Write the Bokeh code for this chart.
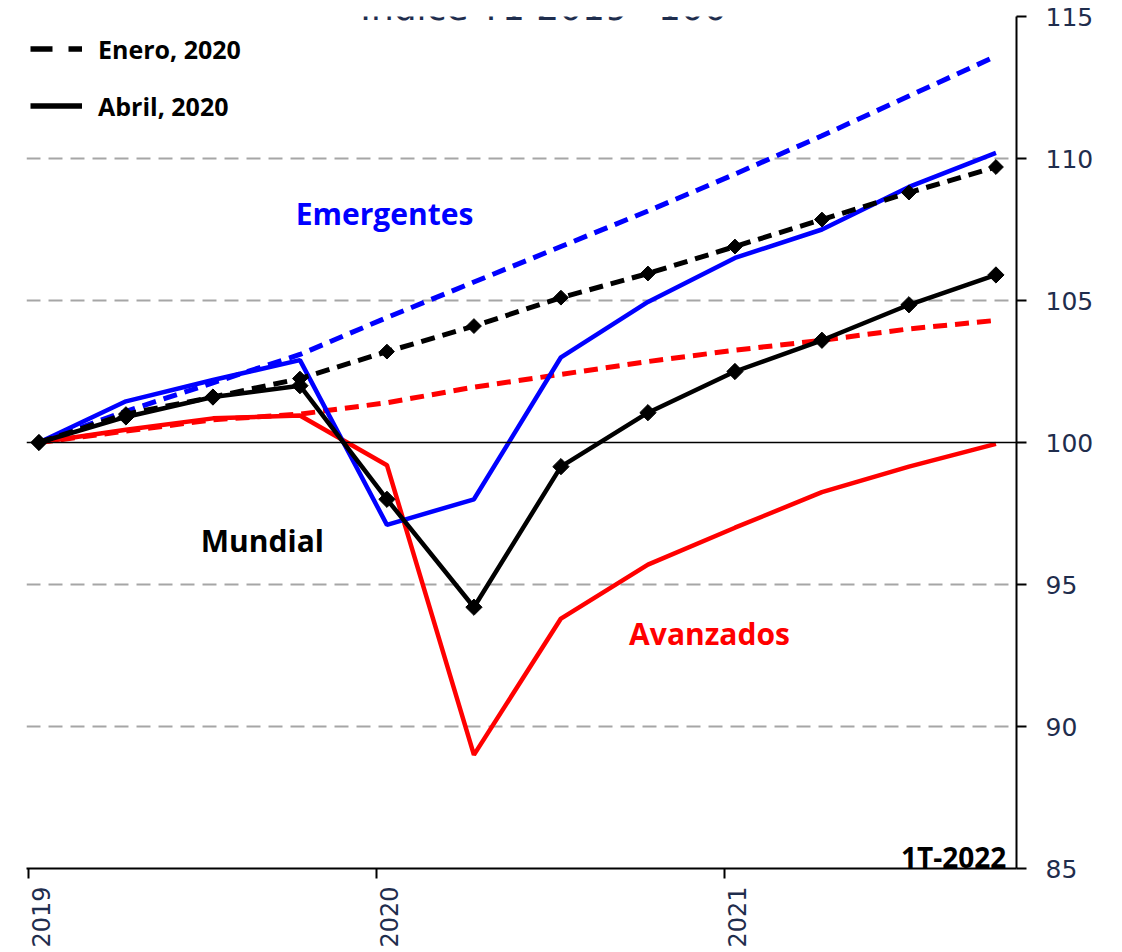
import numpy as np
from bokeh.plotting import figure
from bokeh.models import (LinearAxis, FixedTicker, PrintfTickFormatter, Range1d,
                          Span, Label, Legend, LegendItem)
from bokeh.embed import file_html
from bokeh.resources import INLINE

# ---------------- data ----------------
quarters = ["1T-2019", "2T-2019", "3T-2019", "4T-2019",
            "1T-2020", "2T-2020", "3T-2020", "4T-2020",
            "1T-2021", "2T-2021", "3T-2021", "4T-2021"]
mundial_abril = [100, 100.9, 101.6, 102.0, 98.0, 94.2, 99.15, 101.05, 102.5, 103.6, 104.85, 105.9]
mundial_enero = [100, 101.0, 101.6, 102.25, 103.2, 104.1, 105.1, 105.95, 106.9, 107.85, 108.8, 109.7]
emergentes_abril = [100, 101.45, 102.2, 102.9, 97.1, 98.0, 103.0, 104.95, 106.5, 107.5, 109.0, 110.2]
emergentes_enero = [100, 101.1, 102.1, 103.1, 104.4, 105.65, 106.9, 108.15, 109.45, 110.8, 112.2, 113.6]
avanzados_abril = [100, 100.45, 100.85, 100.95, 99.2, 89.0, 93.8, 95.7, 97.0, 98.25, 99.15, 99.95]
avanzados_enero = [100, 100.4, 100.8, 101.0, 101.4, 101.95, 102.4, 102.85, 103.25, 103.6, 104.0, 104.3]
year_ticks = [2019, 2020, 2021]
y_ticks = [85, 90, 95, 100, 105, 110, 115]
grid_ticks = [90, 95, 105, 110, 115]
title_text = "Índice T1 2019=100"
last_label = "1T-2022"
series_labels = ["Emergentes", "Mundial", "Avanzados"]
legend_labels = ["Enero, 2020", "Abril, 2020"]

# quarter positions on a year axis
def qpos(q):
    t, yr = q.split("T-")
    return int(yr) + (int(t) - 1) * 0.25 + 0.03

x = [qpos(q) for q in quarters]

NAVY = "#1F2D4D"
BLUE = "#0000FF"
RED = "#FF0000"

p = figure(width=1122, height=952,
           x_range=Range1d(2018.99425, 2021.83908), y_range=Range1d(85, 115),
           y_axis_location="right", output_backend="svg", toolbar_location=None,
           min_border_left=26, min_border_top=16, min_border_right=106, min_border_bottom=84)
p.outline_line_color = None
p.background_fill_color = "white"
p.border_fill_color = "white"

# grid
p.xgrid.visible = False
p.ygrid.ticker = FixedTicker(ticks=grid_ticks)
p.ygrid.grid_line_color = "#A6A6A6"
p.ygrid.grid_line_width = 2
p.ygrid.grid_line_dash = "14 8"
p.add_layout(Span(location=100, dimension="width", line_color="black", line_width=1.5))

# right y axis
ya = p.yaxis[0]
ya.ticker = FixedTicker(ticks=y_ticks)
ya.axis_line_color = "black"
ya.axis_line_width = 2
ya.major_tick_line_color = "black"
ya.major_tick_line_width = 2
ya.major_tick_out = 10
ya.major_tick_in = 0
ya.minor_tick_line_color = None
ya.major_label_standoff = 19
ya.major_label_text_font = "DejaVu Sans"
ya.major_label_text_font_size = "25px"
ya.major_label_text_color = NAVY

# bottom axis: tick marks only
xa = p.xaxis[0]
xa.ticker = FixedTicker(ticks=year_ticks)
xa.axis_line_color = "black"
xa.axis_line_width = 2
xa.major_tick_line_color = "black"
xa.major_tick_line_width = 2
xa.major_tick_out = 10
xa.major_tick_in = 0
xa.minor_tick_line_color = None
xa.major_label_text_color = None
xa.major_label_text_font_size = "1px"
xa.major_label_standoff = 0

# bottom axis: year labels, just right of each tick as in the original
xb = LinearAxis(ticker=FixedTicker(ticks=[yv + 0.037 for yv in year_ticks]),
                formatter=PrintfTickFormatter(format="%d"))
xb.axis_line_color = None
xb.major_tick_line_color = None
xb.minor_tick_line_color = None
xb.major_label_orientation = np.pi / 2
xb.major_label_standoff = 2
xb.major_label_text_font = "DejaVu Sans"
xb.major_label_text_font_size = "24px"
xb.major_label_text_color = NAVY
p.add_layout(xb, "below")

# series
p.line(x, avanzados_enero, line_color=RED, line_width=5, line_dash="14 8")
p.line(x, emergentes_enero, line_color=BLUE, line_width=5, line_dash="14 8")
p.line(x, avanzados_abril, line_color=RED, line_width=4.5)
p.line(x, emergentes_abril, line_color=BLUE, line_width=4.5)
p.line(x, mundial_enero, line_color="black", line_width=5, line_dash="14 8")
p.line(x, mundial_abril, line_color="black", line_width=4.5)
p.scatter(x, mundial_enero, marker="square", angle=np.pi / 4, size=10.5, color="black")
p.scatter(x, mundial_abril, marker="square", angle=np.pi / 4, size=11.5, color="black")

# hidden renderers used only for the key's samples (longer dashes, as in the original)
k_ene = p.line(x, mundial_enero, line_color="black", line_width=5.5, line_dash="22 16", visible=False)
k_abr = p.line(x, mundial_abril, line_color="black", line_width=5.5, visible=False)

legend = Legend(items=[LegendItem(label=legend_labels[0], renderers=[k_ene]),
                       LegendItem(label=legend_labels[1], renderers=[k_abr])],
                location="top_left", glyph_width=52, glyph_height=57, label_standoff=16,
                spacing=0, padding=7, margin=4, border_line_color=None,
                background_fill_alpha=0, inactive_fill_alpha=0)
legend.label_text_font = "Open Sans"
legend.label_text_font_style = "bold"
legend.label_text_font_size = "25px"
legend.label_text_color = "black"
p.add_layout(legend)

def lab(xv, yv, text, color, size, align="center", baseline="middle", font="Open Sans", style="bold"):
    p.add_layout(Label(x=xv, y=yv, text=text, text_color=color, text_font=font,
                       text_font_style=style, text_font_size=size,
                       text_align=align, text_baseline=baseline))

lab(2020.023, 108.06, series_labels[0], BLUE, "30px")
lab(2019.672, 96.56, series_labels[1], "black", "30px")
lab(2020.957, 93.28, series_labels[2], RED, "30px")
lab(2021.81, 85.4, last_label, "black", "28px", align="right", baseline="alphabetic")
lab(2020.48, 115.32, title_text, NAVY, "36px", baseline="alphabetic", font="DejaVu Sans", style="normal")

open("out.html", "w").write(file_html(p, INLINE))
